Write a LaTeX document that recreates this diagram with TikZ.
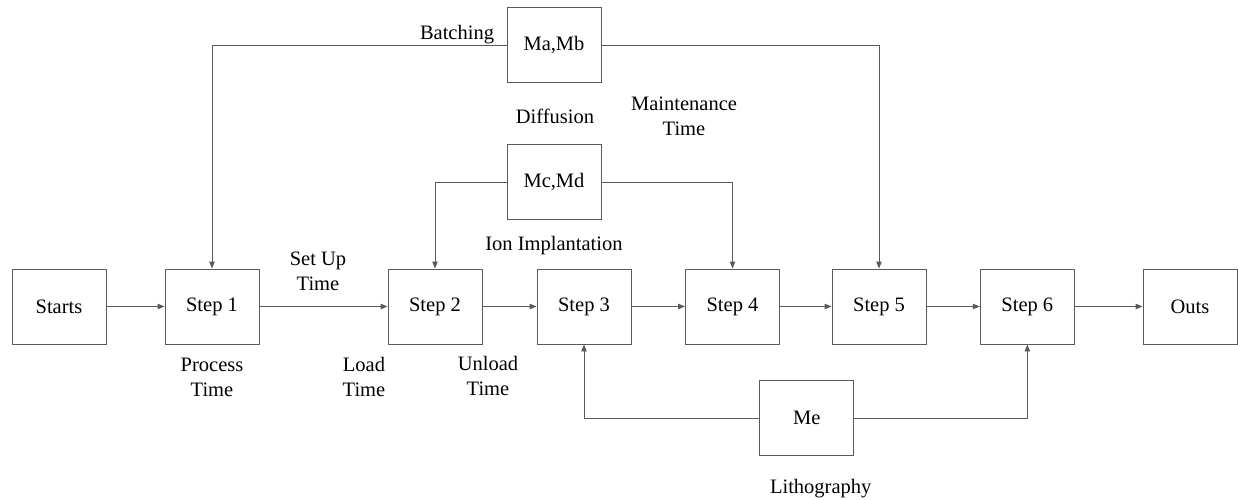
\documentclass[tikz,border=0pt]{standalone}
\usepackage{fontspec}
\setmainfont{Liberation Serif}
\newfontfamily\tnr{Liberation Serif}
\usetikzlibrary{arrows.meta}
\definecolor{linec}{HTML}{5A5A5A}
\tikzset{
  box/.style={draw=linec, line width=0.95pt, minimum width=94pt, minimum height=75pt, inner sep=0pt, font=\tnr\fontsize{20.5}{25}\selectfont},
  lbl/.style={align=center, inner sep=0pt, font=\tnr\fontsize{20.5}{25}\selectfont},
  conn/.style={draw=linec, line width=0.95pt, -{Triangle[length=7pt,width=5.5pt]}}
}
\begin{document}
\begin{tikzpicture}[x=1pt,y=-1pt]
\useasboundingbox (0,0) rectangle (1238,500);
\node[box] (starts) at (59,306.5) {Starts};
\node[box] (s1) at (212,306.5) {Step 1};
\node[box] (s2) at (435,306.5) {Step 2};
\node[box] (s3) at (584,306.5) {Step 3};
\node[box] (s4) at (732.5,306.5) {Step 4};
\node[box] (s5) at (879,306.5) {Step 5};
\node[box] (s6) at (1027.3,306.5) {Step 6};
\node[box] (outs) at (1190,306.5) {Outs};
\node[box] (mab) at (554,45.3) {Ma,Mb};
\node[box] (mcd) at (554,182.2) {Mc,Md};
\node[box] (me) at (806.7,418.2) {Me};

\node[lbl] (batching) at (457,35) {Batching};
\node[lbl] (diffusion) at (555,116) {Diffusion};
\node[lbl] (maint) at (684,116) {Maintenance\\Time};
\node[lbl] (ion) at (554,246) {Ion Implantation};
\node[lbl] (setup) at (318,271) {Set Up\\Time};
\node[lbl] (process) at (212,377) {Process\\Time};
\node[lbl] (load) at (364,377) {Load\\Time};
\node[lbl] (unload) at (488,376) {Unload\\Time};
\node[lbl] (litho) at (820.7,489) {Lithography};

\draw[conn] (starts) -- (s1);
\draw[conn] (s1) -- (s2);
\draw[conn] (s2) -- (s3);
\draw[conn] (s3) -- (s4);
\draw[conn] (s4) -- (s5);
\draw[conn] (s5) -- (s6);
\draw[conn] (s6) -- (outs);
\draw[conn] (mab.west) -| (s1.north);
\draw[conn] (mab.east) -| (s5.north);
\draw[conn] (mcd.west) -| (s2.north);
\draw[conn] (mcd.east) -| (s4.north);
\draw[conn] (me.west) -| (s3.south);
\draw[conn] (me.east) -| (s6.south);
\end{tikzpicture}
\end{document}
